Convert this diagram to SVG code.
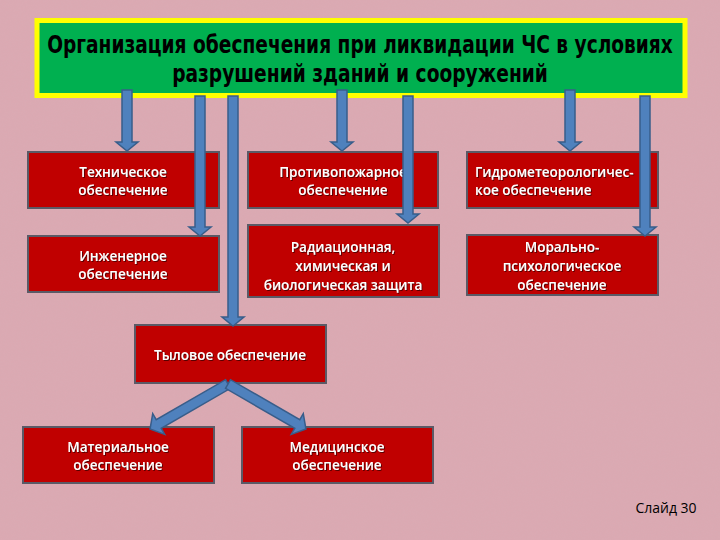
<svg xmlns="http://www.w3.org/2000/svg" width="720" height="540" viewBox="0 0 720 540">
<style>
.box{fill:#C00000;stroke:#5a5a66;stroke-width:2}
.t{font-family:"Open Sans","Liberation Sans",sans-serif;font-size:13.5px;font-weight:600;fill:#ffffff;text-anchor:middle;filter:url(#sh)}
.arr{fill:#4F81BD;stroke:#385D8A;stroke-width:1.5;stroke-linejoin:miter}
.title{font-family:"DejaVu Sans Condensed","Liberation Sans",sans-serif;font-weight:bold;font-size:24px;fill:#000;text-anchor:middle}
</style>
<defs>
<filter id="sh" x="-5%" y="-20%" width="110%" height="140%"><feDropShadow dx="1" dy="1" stdDeviation="0.4" flood-color="#400000" flood-opacity="0.8"/></filter>
<filter id="noise" x="0" y="0" width="100%" height="100%"><feTurbulence type="fractalNoise" baseFrequency="0.6" numOctaves="2" seed="3"/><feColorMatrix type="matrix" values="0 0 0 0 0.55  0 0 0 0 0.45  0 0 0 0 0.5  0 0 0 0.35 0"/></filter>
</defs>
<rect width="720" height="540" fill="#DCA9B2"/>
<rect width="720" height="540" filter="url(#noise)" opacity="0.35"/>
<g id="title">
<rect x="37" y="20.5" width="648" height="75" fill="#00B050" stroke="#FFFF00" stroke-width="5"/>
<g transform="translate(360,0) scale(0.85,1)">
<text class="title" x="0" y="53" textLength="736" lengthAdjust="spacingAndGlyphs">Организация обеспечения при ликвидации ЧС в условиях</text>
<text class="title" x="0" y="82" textLength="442" lengthAdjust="spacingAndGlyphs">разрушений зданий и сооружений</text>
</g>
</g>
<g id="n-tech"><rect class="box" x="28" y="152" width="191" height="56"/><text class="t" x="123" y="177">Техническое</text><text class="t" x="123" y="195">обеспечение</text></g>
<g id="n-eng"><rect class="box" x="28" y="236" width="191" height="56"/><text class="t" x="123" y="261">Инженерное</text><text class="t" x="123" y="279">обеспечение</text></g>
<g id="n-fire"><rect class="box" x="248" y="152" width="190" height="56"/><text class="t" x="343" y="177">Противопожарное</text><text class="t" x="343" y="195">обеспечение</text></g>
<g id="n-rad"><rect class="box" x="248" y="225" width="191" height="72"/><text class="t" x="343" y="252">Радиационная,</text><text class="t" x="343" y="271">химическая и</text><text class="t" x="343" y="290">биологическая защита</text></g>
<g id="n-hydro"><rect class="box" x="467" y="152" width="191" height="56"/><text class="t" x="475" y="177" style="text-anchor:start">Гидрометеорологичес-</text><text class="t" x="475" y="195" style="text-anchor:start">кое обеспечение</text></g>
<g id="n-moral"><rect class="box" x="467" y="235" width="191" height="60"/><text class="t" x="562" y="252">Морально-</text><text class="t" x="562" y="271">психологическое</text><text class="t" x="562" y="290">обеспечение</text></g>
<g id="n-rear"><rect class="box" x="135" y="325" width="191" height="58"/><text class="t" x="230" y="360">Тыловое обеспечение</text></g>
<g id="n-mat"><rect class="box" x="23" y="427" width="191" height="56"/><text class="t" x="118" y="452">Материальное</text><text class="t" x="118" y="470">обеспечение</text></g>
<g id="n-med"><rect class="box" x="242" y="427" width="191" height="56"/><text class="t" x="337" y="452">Медицинское</text><text class="t" x="337" y="470">обеспечение</text></g>
<g id="connectors">
<path class="arr" d="M122,90 L132,90 L132,142 L138,142 L127,151 L116,142 L122,142Z"/>
<path class="arr" d="M195,96 L205,96 L205,227 L211,227 L200,236 L189,227 L195,227Z"/>
<path class="arr" d="M228,96 L238,96 L238,317 L244,317 L233,326 L222,317 L228,317Z"/>
<path class="arr" d="M337,90 L347,90 L347,142 L353,142 L342,151 L331,142 L337,142Z"/>
<path class="arr" d="M403,96 L413,96 L413,214 L419,214 L408,223 L397,214 L403,214Z"/>
<path class="arr" d="M565,90 L575,90 L575,142 L581,142 L570,151 L559,142 L565,142Z"/>
<path class="arr" d="M640,96 L650,96 L650,227 L656,227 L645,236 L634,227 L640,227Z"/>
<path class="arr" d="M-5,0 L5,0 L5,80 L12,80 L0,90 L-12,80 L-5,80Z" transform="translate(228,384) rotate(60)"/>
<path class="arr" d="M-5,0 L5,0 L5,80 L12,80 L0,90 L-12,80 L-5,80Z" transform="translate(228,384) rotate(-60)"/>
</g>
<text x="666" y="513" font-family="Open Sans,Liberation Sans,sans-serif" font-size="14" fill="#000" text-anchor="middle">Слайд 30</text>
</svg>
